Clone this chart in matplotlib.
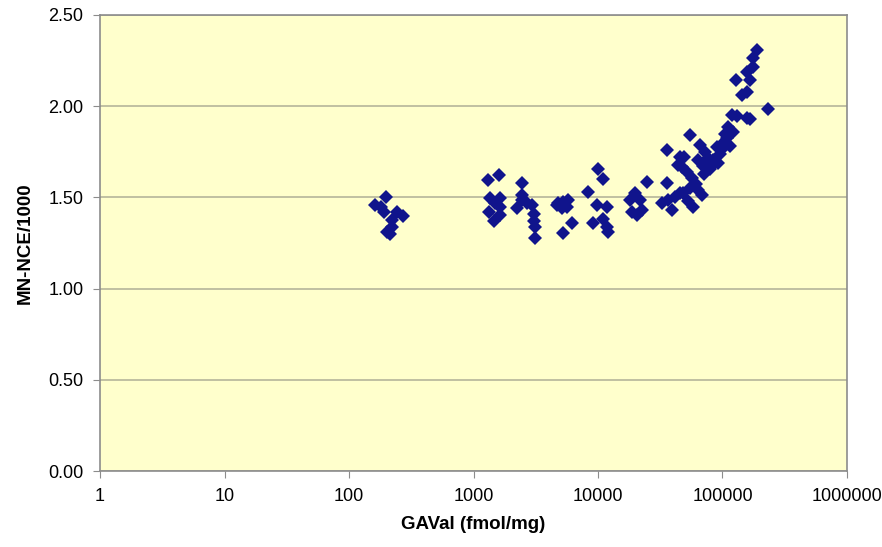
import matplotlib.pyplot as plt
from matplotlib.ticker import FixedLocator, FixedFormatter, NullLocator

# GAVal (fmol/mg) vs MN-NCE/1000
gaval = [162, 198, 181, 191, 243, 272, 221, 221, 202, 213,
         1315, 1611, 1357, 1633, 1489, 1633, 1340, 1633, 1462, 2438,
         2438, 2438, 2223, 2675, 2933, 3063, 3063, 3120, 3120,
         10050, 10900, 8265, 4800, 5264, 5771, 5110, 5605, 4660, 6150,
         5264, 9860, 11880, 9165, 11030, 11740, 12100,
         35640, 45590, 44200, 24600, 35640, 19820, 18070, 21750, 18650, 22440,
         20450, 32480, 39080, 41500, 45590, 36700,
         55000, 65950, 188300, 176600, 176600, 156300, 166300, 128300, 156300, 142600,
         231900, 118600, 130000, 157300, 166300, 111400, 122200, 108100, 101400, 114800,
         72300, 95500, 76900, 63900, 84400, 92500, 70100, 79400, 71000, 49100,
         47000, 51900, 56900, 61300, 54800, 63500, 68400, 48200, 52800, 57900, 90300,
         104000, 98000, 86000]
mn_nce = [1.458, 1.502, 1.447, 1.420, 1.420, 1.398, 1.376, 1.338, 1.310, 1.299,
          1.595, 1.623, 1.495, 1.495, 1.468, 1.449, 1.418, 1.404, 1.371, 1.577,
          1.513, 1.486, 1.440, 1.468, 1.458, 1.407, 1.371, 1.339, 1.279,
          1.656, 1.601, 1.528, 1.468, 1.476, 1.486, 1.440, 1.449, 1.458, 1.358,
          1.303, 1.458, 1.446, 1.361, 1.382, 1.339, 1.309,
          1.760, 1.723, 1.678, 1.586, 1.577, 1.522, 1.486, 1.486, 1.422, 1.431,
          1.404, 1.468, 1.431, 1.504, 1.522, 1.486,
          1.840, 1.787, 2.308, 2.263, 2.215, 2.189, 2.144, 2.144, 2.080, 2.061,
          1.985, 1.952, 1.944, 1.933, 1.928, 1.886, 1.856, 1.826, 1.798, 1.782,
          1.751, 1.738, 1.714, 1.705, 1.705, 1.687, 1.672, 1.656, 1.628, 1.719,
          1.668, 1.639, 1.606, 1.573, 1.552, 1.541, 1.513, 1.524, 1.480, 1.445, 1.776,
          1.845, 1.760, 1.690]

xticks = [1, 10, 100, 1000, 10000, 100000, 1000000]
xtick_labels = ["1", "10", "100", "1000", "10000", "100000", "1000000"]
yticks = [0.0, 0.5, 1.0, 1.5, 2.0, 2.5]
ytick_labels = ["0.00", "0.50", "1.00", "1.50", "2.00", "2.50"]

plt.rcParams['font.family'] = ['Liberation Sans', 'DejaVu Sans']

fig = plt.figure(figsize=(8.82, 5.47), dpi=100)
ax = fig.add_axes([0.1134, 0.1389, 0.8469, 0.8337])
ax.set_facecolor('#FFFFCC')

ax.plot(gaval, mn_nce, 'D', color='#10148C', markersize=7, markeredgewidth=0)

ax.set_xscale('log')
ax.set_xlim(1, 1000000)
ax.set_ylim(0, 2.5)
ax.xaxis.set_major_locator(FixedLocator(xticks))
ax.xaxis.set_major_formatter(FixedFormatter(xtick_labels))
ax.xaxis.set_minor_locator(NullLocator())
ax.set_yticks(yticks)
ax.set_yticklabels(ytick_labels)

ax.yaxis.grid(True, color='#B5B59A', linewidth=1.2)
ax.set_axisbelow(True)
for s in ax.spines.values():
    s.set_color('#8C8C8C')
    s.set_linewidth(1.2)
ax.tick_params(axis='both', direction='out', length=5, color='#8C8C8C',
               labelsize=13, pad=7)

ax.set_xlabel("GAVal (fmol/mg)", fontsize=13.5, fontweight='bold', labelpad=8)
ax.set_ylabel("MN-NCE/1000", fontsize=13.5, fontweight='bold', labelpad=10)

fig.savefig('out.png', dpi=100)
